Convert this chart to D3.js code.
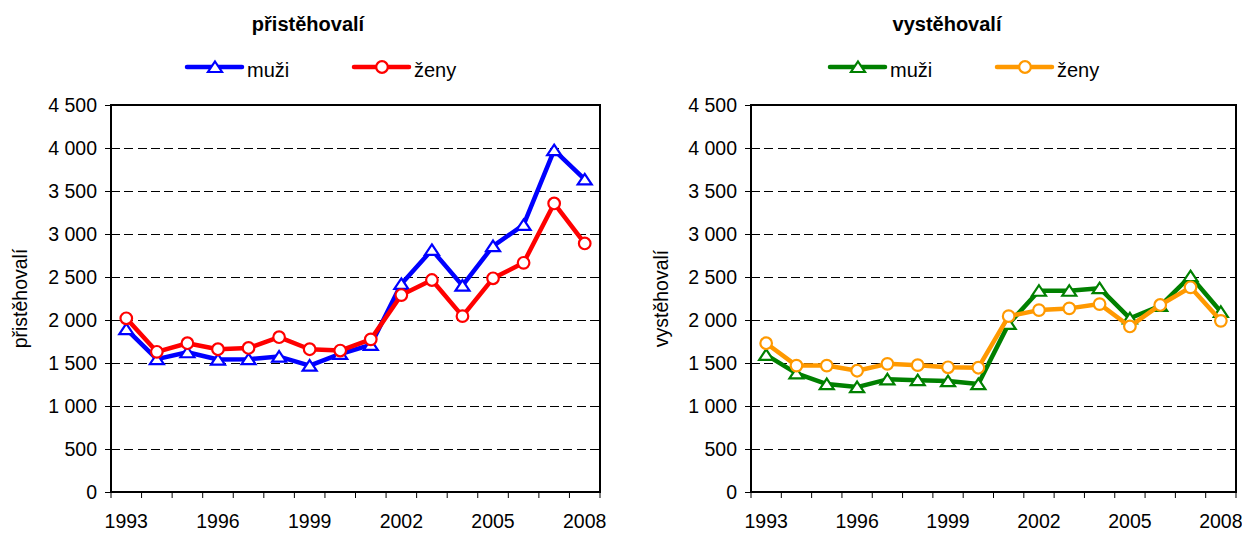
<!DOCTYPE html>
<meta charset="utf-8">
<style>
body { margin: 0; background: white; }
svg { font-family: "Liberation Sans", Arial, sans-serif; }
.grid line { stroke: #000; stroke-dasharray: 9,4.3; stroke-width: 1; shape-rendering: crispEdges; }
</style>
<body>
<svg id="chart" width="1242" height="533"></svg>
<script src="https://cdn.jsdelivr.net/npm/d3@7"></script>
<script>

// categories
var years = [1993, 1994, 1995, 1996, 1997, 1998, 1999, 2000, 2001, 2002, 2003, 2004, 2005, 2006, 2007, 2008];
var xTickLabels = [1993, 1996, 1999, 2002, 2005, 2008];
var yTicks = [0, 500, 1000, 1500, 2000, 2500, 3000, 3500, 4000, 4500];
var yTickLabels = ["0", "500", "1 000", "1 500", "2 000", "2 500", "3 000", "3 500", "4 000", "4 500"];

// přistěhovalí (immigrants)
var immMen   = [1895, 1545, 1625, 1540, 1545, 1575, 1470, 1605, 1710, 2420, 2815, 2400, 2860, 3105, 3975, 3635];
var immWomen = [2020, 1630, 1730, 1660, 1675, 1800, 1660, 1645, 1775, 2290, 2465, 2045, 2485, 2665, 3355, 2890];

// vystěhovalí (emigrants)
var emiMen   = [1595, 1380, 1255, 1220, 1310, 1300, 1290, 1255, 1955, 2340, 2340, 2370, 2020, 2165, 2510, 2095];
var emiWomen = [1730, 1470, 1470, 1410, 1490, 1475, 1450, 1445, 2045, 2115, 2135, 2185, 1925, 2175, 2380, 1990];

var svg = d3.select("#chart");

var panels = [
  { left: 111, right: 600, title: "přistěhovalí", yTitle: "přistěhovalí", yTitleX: 27,
    titleX: 308, legendX: [187, 354],
    series: [
      { name: "muži", values: immMen, color: "#0000ff", marker: "triangle" },
      { name: "ženy", values: immWomen, color: "#ff0000", marker: "circle" }
    ] },
  { left: 751, right: 1236, title: "vystěhovalí", yTitle: "vystěhovalí", yTitleX: 668,
    titleX: 947, legendX: [830, 997],
    series: [
      { name: "muži", values: emiMen, color: "#008000", marker: "triangle" },
      { name: "ženy", values: emiWomen, color: "#ff9900", marker: "circle" }
    ] }
];

var plotTop = 105, plotBottom = 492;
var triPath = "M0,-5.5L7,5L-7,5Z";

function drawMarker(g, type, color) {
  if (type == "triangle") {
    g.append("path").attr("d", triPath)
      .attr("fill", "white").attr("stroke", color).attr("stroke-width", 2.2);
  } else {
    g.append("circle").attr("r", 5.8)
      .attr("fill", "white").attr("stroke", color).attr("stroke-width", 2.2);
  }
}

panels.forEach(function(p) {
  var x = d3.scaleBand().domain(years).range([p.left, p.right]).padding(0);
  var y = d3.scaleLinear().domain([0, 4500]).range([plotBottom, plotTop]);
  var cx = function(yr) { return x(yr) + x.bandwidth() / 2; };

  var g = svg.append("g");

  // grid
  g.append("g").attr("class", "grid")
    .selectAll("line").data(yTicks.filter(function(t) { return t > 0 && t < 4500; }))
    .enter().append("line")
      .attr("x1", p.left).attr("x2", p.right)
      .attr("y1", function(d) { return Math.round(y(d)) + 0.5; })
      .attr("y2", function(d) { return Math.round(y(d)) + 0.5; });

  // y axis
  var yAxis = d3.axisLeft(y).tickValues(yTicks).tickSize(6).tickPadding(8)
    .tickFormat(function(d, i) { return yTickLabels[i]; });
  var ya = g.append("g").attr("transform", "translate(" + p.left + ",0)").call(yAxis);
  ya.select(".domain").remove();
  ya.selectAll("line").attr("stroke", "#000");
  ya.selectAll("text").attr("font-size", 19.5).attr("fill", "#000")
    .attr("font-family", "Liberation Sans, Arial, sans-serif");

  // x axis: ticks at category boundaries
  var bounds = years.map(function(yr) { return x(yr); }).concat([p.right]);
  g.append("g").selectAll("line").data(bounds).enter().append("line")
    .attr("x1", function(d) { return d; }).attr("x2", function(d) { return d; })
    .attr("y1", plotBottom).attr("y2", plotBottom + 6)
    .attr("stroke", "#000");
  g.append("g").selectAll("text").data(xTickLabels).enter().append("text")
    .attr("x", function(d) { return cx(d); })
    .attr("y", 528)
    .attr("text-anchor", "middle")
    .attr("font-size", 19.5)
    .text(function(d) { return d; });

  // plot frame
  g.append("rect")
    .attr("x", p.left).attr("y", plotTop)
    .attr("width", p.right - p.left).attr("height", plotBottom - plotTop)
    .attr("fill", "none").attr("stroke", "#000").attr("stroke-width", 2);

  // series
  var line = d3.line()
    .x(function(d, i) { return cx(years[i]); })
    .y(function(d) { return y(d); });

  p.series.forEach(function(s) {
    g.append("path").datum(s.values)
      .attr("d", line)
      .attr("fill", "none")
      .attr("stroke", s.color)
      .attr("stroke-width", 4.5)
      .attr("stroke-linejoin", "round");
    s.values.forEach(function(v, i) {
      var m = g.append("g").attr("transform", "translate(" + cx(years[i]) + "," + y(v) + ")");
      drawMarker(m, s.marker, s.color);
    });
  });

  // title
  g.append("text")
    .attr("x", p.titleX).attr("y", 31)
    .attr("text-anchor", "middle")
    .attr("font-size", 20).attr("font-weight", "bold")
    .text(p.title);

  // y title
  g.append("text")
    .attr("transform", "translate(" + p.yTitleX + "," + ((plotTop + plotBottom) / 2) + ") rotate(-90)")
    .attr("text-anchor", "middle")
    .attr("font-size", 19.5)
    .text(p.yTitle);

  // legend
  p.series.forEach(function(s, i) {
    var lx = p.legendX[i];
    var lg = g.append("g").attr("transform", "translate(" + lx + ",67)");
    lg.append("line").attr("x1", 0).attr("x2", 55)
      .attr("stroke", s.color).attr("stroke-width", 4.5).attr("stroke-linecap", "round");
    drawMarker(lg.append("g").attr("transform", "translate(28,0)"), s.marker, s.color);
    lg.append("text").attr("x", 60).attr("y", 10)
      .attr("font-size", 20)
      .text(s.name);
  });
});

</script>
</body>
